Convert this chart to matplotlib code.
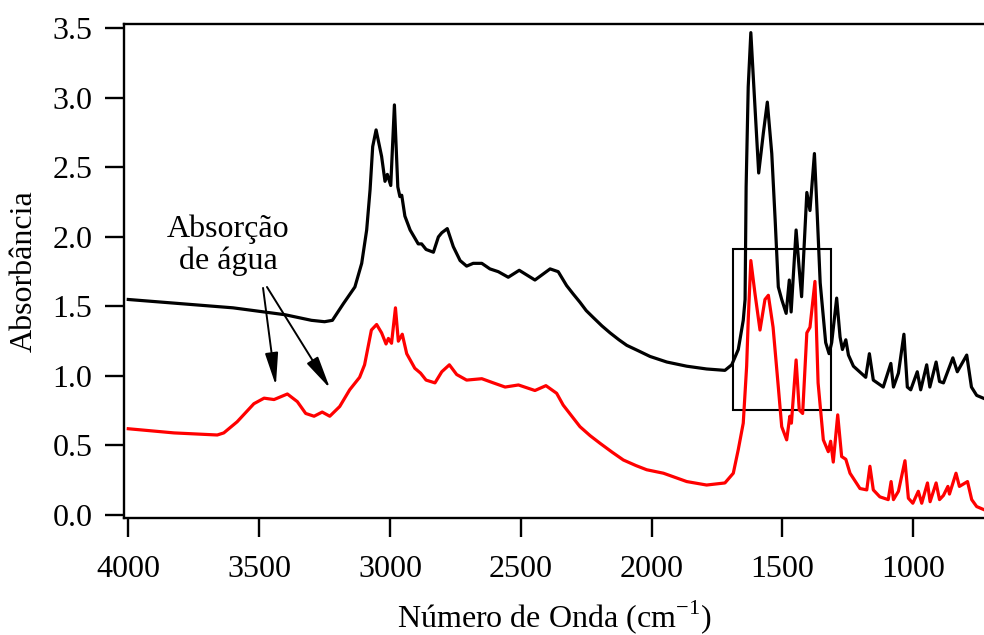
import matplotlib
matplotlib.use("Agg")
import matplotlib.pyplot as plt
from matplotlib.patches import Rectangle
from matplotlib.ticker import FormatStrFormatter, MultipleLocator

# FTIR spectra, wavenumber (cm-1) vs absorbance
black_wn = [4000, 3800, 3600, 3400, 3300, 3250, 3220, 3178, 3134, 3108, 3089, 3076,
            3066, 3053, 3032, 3019, 3010, 2997, 2983, 2970, 2962, 2955, 2943, 2923,
            2892, 2879, 2862, 2834, 2815, 2802, 2781, 2758, 2732, 2707, 2682, 2649,
            2618, 2586, 2548, 2506, 2446, 2388, 2357, 2325, 2300, 2274, 2250, 2223,
            2190, 2159, 2125, 2095, 2050, 2006, 1942, 1866, 1790, 1720, 1694, 1669,
            1650, 1643, 1639, 1631, 1621, 1611, 1591, 1573, 1558, 1541, 1528, 1516,
            1503, 1486, 1474, 1467, 1448, 1437, 1427, 1407, 1395, 1378, 1367, 1356,
            1335, 1322, 1312, 1293, 1280, 1271, 1258, 1248, 1229, 1182, 1168, 1153,
            1115, 1086, 1076, 1057, 1036, 1023, 1010, 985, 972, 949, 937, 913, 900,
            885, 849, 832, 796, 778, 758, 733]
black_abs = [1.55, 1.52, 1.49, 1.44, 1.40, 1.39, 1.40, 1.52, 1.64, 1.81, 2.05, 2.34,
             2.65, 2.77, 2.58, 2.40, 2.45, 2.37, 2.95, 2.36, 2.29, 2.30, 2.15, 2.05,
             1.95, 1.95, 1.91, 1.89, 2.00, 2.03, 2.06, 1.93, 1.83, 1.79, 1.81, 1.81,
             1.77, 1.75, 1.71, 1.76, 1.69, 1.77, 1.75, 1.65, 1.59, 1.53, 1.47, 1.42,
             1.36, 1.31, 1.26, 1.22, 1.18, 1.14, 1.10, 1.07, 1.05, 1.04, 1.08, 1.19,
             1.40, 1.55, 2.36, 3.08, 3.47, 3.13, 2.46, 2.75, 2.97, 2.60, 2.12, 1.64,
             1.55, 1.45, 1.69, 1.46, 2.05, 1.79, 1.57, 2.32, 2.19, 2.60, 2.15, 1.67,
             1.24, 1.16, 1.24, 1.56, 1.28, 1.19, 1.26, 1.15, 1.07, 0.99, 1.16, 0.97,
             0.92, 1.09, 0.92, 1.02, 1.30, 0.92, 0.90, 1.03, 0.90, 1.08, 0.92, 1.10,
             0.96, 0.95, 1.13, 1.03, 1.15, 0.92, 0.86, 0.84]

red_wn = [4000, 3825, 3660, 3635, 3584, 3520, 3481, 3443, 3392, 3354, 3322, 3290,
          3259, 3230, 3192, 3154, 3116, 3097, 3071, 3051, 3032, 3015, 3006, 2994,
          2979, 2968, 2953, 2936, 2905, 2883, 2862, 2828, 2802, 2773, 2745, 2707,
          2649, 2605, 2560, 2509, 2446, 2404, 2363, 2338, 2305, 2274, 2235, 2197,
          2150, 2108, 2060, 2019, 1955, 1866, 1790, 1720, 1688, 1669, 1650, 1637,
          1631, 1621, 1605, 1586, 1567, 1554, 1536, 1516, 1503, 1484, 1472, 1466,
          1448, 1436, 1423, 1407, 1395, 1376, 1364, 1344, 1325, 1316, 1306, 1289,
          1274, 1258, 1242, 1204, 1178, 1166, 1153, 1128, 1096, 1085, 1076, 1057,
          1032, 1019, 1002, 981, 968, 946, 936, 913, 900, 885, 868, 862, 837, 824,
          793, 777, 758, 733]
red_abs = [0.62, 0.59, 0.575, 0.59, 0.67, 0.80, 0.84, 0.83, 0.87, 0.815, 0.73, 0.71,
           0.74, 0.71, 0.78, 0.90, 0.99, 1.08, 1.33, 1.37, 1.31, 1.23, 1.27, 1.235,
           1.49, 1.25, 1.30, 1.16, 1.055, 1.02, 0.97, 0.95, 1.03, 1.08, 1.01, 0.97,
           0.98, 0.95, 0.92, 0.935, 0.895, 0.93, 0.875, 0.79, 0.71, 0.635, 0.57, 0.515,
           0.45, 0.395, 0.355, 0.325, 0.30, 0.24, 0.215, 0.23, 0.30, 0.47, 0.66, 1.07,
           1.40, 1.83, 1.59, 1.33, 1.55, 1.58, 1.35, 0.92, 0.635, 0.54, 0.71, 0.66,
           1.115, 0.755, 0.73, 1.31, 1.35, 1.68, 0.95, 0.54, 0.455, 0.53, 0.38, 0.72,
           0.42, 0.40, 0.30, 0.19, 0.18, 0.35, 0.18, 0.13, 0.11, 0.24, 0.11, 0.17,
           0.39, 0.12, 0.084, 0.17, 0.084, 0.23, 0.095, 0.23, 0.11, 0.14, 0.205, 0.15,
           0.30, 0.205, 0.24, 0.11, 0.06, 0.04]

x_ticks = [4000, 3500, 3000, 2500, 2000, 1500, 1000]

# highlighted region (wavenumber range, absorbance range)
box_wn = (1316, 1688)
box_abs = (0.755, 1.914)

plt.rcParams["font.family"] = ["Liberation Serif", "DejaVu Serif"]
plt.rcParams["mathtext.fontset"] = "custom"
plt.rcParams["mathtext.rm"] = "Liberation Serif"
plt.rcParams["font.size"] = 23

fig = plt.figure(figsize=(9.84, 6.35), dpi=100)
ax = fig.add_axes([0.1265, 0.1843, 0.8735, 0.7779])

ax.plot(black_wn, black_abs, color="black", lw=2.3, solid_joinstyle="round")
ax.plot(red_wn, red_abs, color="#ff0000", lw=2.3, solid_joinstyle="round")

ax.add_patch(Rectangle((box_wn[0], box_abs[0]), box_wn[1] - box_wn[0],
                       box_abs[1] - box_abs[0], fill=False, ec="black", lw=1.5))

ax.text(3619, 1.94, "Absorção\nde água", ha="center", va="center",
        multialignment="center", linespacing=1.1, fontsize=23)
arrow = dict(arrowstyle="-|>,head_length=1.0,head_width=0.2", color="black",
             lw=1.4, mutation_scale=20, shrinkA=0, shrinkB=0)
ax.annotate("", xy=(3436, 0.93), xytext=(3485, 1.633), arrowprops=arrow)
ax.annotate("", xy=(3229, 0.91), xytext=(3470, 1.64), arrowprops=arrow)

ax.set_xlim(4014.5, 730)
ax.set_ylim(-0.022, 3.532)
ax.set_xticks(x_ticks)
ax.yaxis.set_major_locator(MultipleLocator(0.5))
ax.yaxis.set_major_formatter(FormatStrFormatter("%.1f"))

for side in ("left", "top", "bottom"):
    ax.spines[side].set_linewidth(1.7)
ax.spines["right"].set_visible(False)
ax.tick_params(axis="both", direction="out", length=14, width=1.7, labelsize=23)
ax.tick_params(axis="x", pad=13)
ax.tick_params(axis="y", pad=9)

ax.set_xlabel("Número de Onda (cm$^{-1}$)", fontsize=23, labelpad=10)
ax.set_ylabel("Absorbância", fontsize=23, labelpad=10)

fig.savefig("out.png", dpi=100)
